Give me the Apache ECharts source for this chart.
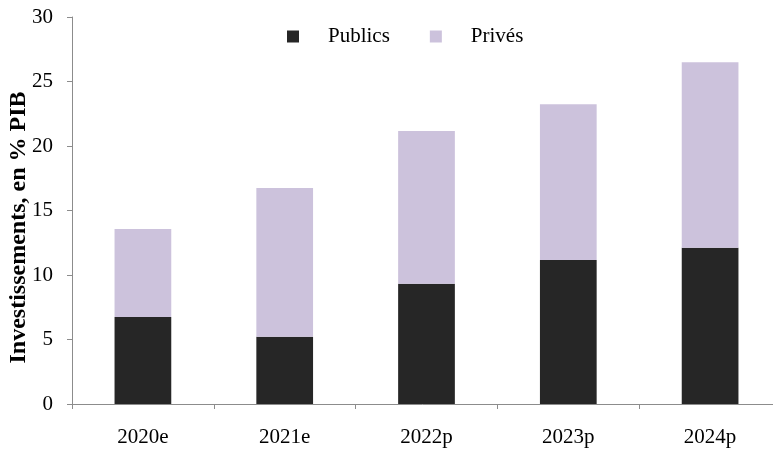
<!DOCTYPE html>
<html>
<head>
<meta charset="utf-8">
<script src="https://cdn.jsdelivr.net/npm/echarts@6/dist/echarts.min.js"></script>
<style>
 html, body { margin: 0; padding: 0; background: #fff; }
 #chart { width: 773px; height: 449px; }
</style>
</head>
<body>
<div id="chart"></div>
<script>
const categories = ['2020e', '2021e', '2022p', '2023p', '2024p']
const publics = [6.74, 5.22, 9.33, 11.16, 12.12]
const prives = [6.83, 11.52, 11.83, 12.07, 14.38]
const yTicks = [0, 5, 10, 15, 20, 25, 30]

const serif = '"Liberation Serif", "Times New Roman", serif'
const axisGrey = '#8c8c8c'

const chart = echarts.init(document.getElementById('chart'))
const option = {
 animation: false,
 textStyle: { fontFamily: serif },
 legend: {
  left: 282,
  top: 21,
  itemWidth: 12,
  itemHeight: 12,
  itemGap: 40,
  icon: 'rect',
  textStyle: {
   fontFamily: serif,
   fontSize: 21,
   color: '#000',
   padding: [0, 0, 0, 24]
  },
  data: ['Publics', 'Privés']
 },
 grid: {
  left: 72,
  top: 17,
  width: 709,
  height: 387,
  containLabel: false,
  outerBoundsMode: 'none'
 },
 xAxis: {
  type: 'category',
  data: categories,
  axisLine: { lineStyle: { color: axisGrey, width: 1 } },
  axisTick: { show: true, length: 5, lineStyle: { color: axisGrey } },
  axisLabel: { fontFamily: serif, fontSize: 21, color: '#000', margin: 23 }
 },
 yAxis: {
  type: 'value',
  min: yTicks[0],
  max: yTicks[yTicks.length - 1],
  interval: 5,
  name: 'Investissements, en % PIB',
  nameLocation: 'middle',
  nameGap: 41,
  nameMoveOverlap: false,
  nameTextStyle: {
   fontFamily: serif,
   fontSize: 24,
   fontWeight: 'bold',
   color: '#000',
   padding: [0, 34, 0, 0]
  },
  splitLine: { show: false },
  axisLine: { show: true, lineStyle: { color: axisGrey, width: 1 } },
  axisTick: { show: true, length: 5, lineStyle: { color: axisGrey } },
  axisLabel: { fontFamily: serif, fontSize: 21, color: '#000', margin: 19 }
 },
 series: [
  {
   name: 'Publics',
   type: 'bar',
   stack: 'total',
   barWidth: '40%',
   data: publics,
   itemStyle: { color: '#262626' }
  },
  {
   name: 'Privés',
   type: 'bar',
   stack: 'total',
   barWidth: '40%',
   data: prives,
   itemStyle: { color: '#ccc2dc' }
  }
 ]
}
chart.setOption(option)
</script>
</body>
</html>
